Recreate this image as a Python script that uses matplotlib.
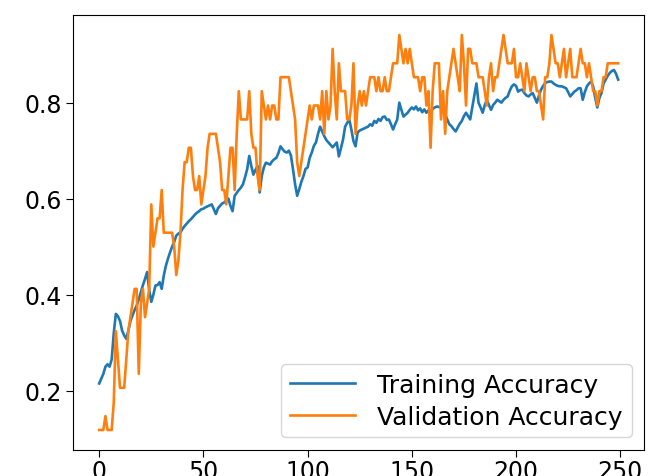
import matplotlib
matplotlib.use("Agg")
import matplotlib.pyplot as plt
import numpy as np

# per-epoch accuracy (250 epochs)
train_acc = [
    0.215, 0.225, 0.235, 0.250, 0.255, 0.250, 0.265, 0.320, 0.360, 0.355,
    0.345, 0.325, 0.315, 0.308, 0.325, 0.345, 0.357, 0.368, 0.377, 0.390,
    0.405, 0.420, 0.433, 0.447, 0.410, 0.385, 0.400, 0.419, 0.420, 0.426,
    0.412, 0.440, 0.460, 0.475, 0.488, 0.500, 0.510, 0.523, 0.527, 0.530,
    0.537, 0.543, 0.548, 0.553, 0.557, 0.562, 0.567, 0.571, 0.574, 0.578,
    0.579, 0.582, 0.584, 0.586, 0.588, 0.578, 0.568, 0.580, 0.585, 0.590,
    0.592, 0.596, 0.600, 0.585, 0.574, 0.606, 0.612, 0.618, 0.623, 0.630,
    0.645, 0.661, 0.689, 0.668, 0.650, 0.660, 0.668, 0.613, 0.647, 0.665,
    0.675, 0.673, 0.671, 0.678, 0.682, 0.685, 0.695, 0.709, 0.703, 0.698,
    0.696, 0.700, 0.690, 0.661, 0.630, 0.606, 0.620, 0.635, 0.647, 0.662,
    0.665, 0.685, 0.696, 0.710, 0.717, 0.735, 0.750, 0.740, 0.730, 0.722,
    0.717, 0.712, 0.707, 0.712, 0.717, 0.688, 0.705, 0.723, 0.750, 0.758,
    0.765, 0.744, 0.720, 0.709, 0.738, 0.742, 0.744, 0.746, 0.748, 0.750,
    0.755, 0.752, 0.762, 0.758, 0.766, 0.762, 0.770, 0.771, 0.764, 0.765,
    0.755, 0.744, 0.755, 0.765, 0.800, 0.785, 0.771, 0.775, 0.779, 0.785,
    0.790, 0.786, 0.792, 0.784, 0.788, 0.780, 0.786, 0.779, 0.784, 0.778,
    0.787, 0.790, 0.792, 0.791, 0.790, 0.785, 0.776, 0.765, 0.755, 0.751,
    0.745, 0.740, 0.748, 0.756, 0.762, 0.772, 0.779, 0.772, 0.765, 0.790,
    0.815, 0.840, 0.800, 0.790, 0.779, 0.795, 0.806, 0.795, 0.785, 0.795,
    0.800, 0.806, 0.803, 0.800, 0.806, 0.810, 0.813, 0.825, 0.834, 0.838,
    0.835, 0.823, 0.826, 0.827, 0.820, 0.815, 0.813, 0.817, 0.820, 0.810,
    0.800, 0.815, 0.827, 0.835, 0.841, 0.843, 0.844, 0.844, 0.840, 0.837,
    0.835, 0.834, 0.834, 0.832, 0.830, 0.822, 0.813, 0.818, 0.823, 0.826,
    0.830, 0.830, 0.806, 0.822, 0.834, 0.840, 0.844, 0.834, 0.810, 0.790,
    0.810, 0.820, 0.840, 0.848, 0.856, 0.862, 0.866, 0.868, 0.860, 0.848,
]

val_acc = [
    0.118, 0.118, 0.118, 0.147, 0.118, 0.118, 0.118, 0.176, 0.324, 0.265,
    0.206, 0.206, 0.206, 0.265, 0.324, 0.353, 0.382, 0.412, 0.412, 0.235,
    0.382, 0.412, 0.353, 0.382, 0.412, 0.588, 0.500, 0.529, 0.559, 0.559,
    0.618, 0.529, 0.529, 0.529, 0.529, 0.529, 0.500, 0.441, 0.471, 0.529,
    0.618, 0.676, 0.676, 0.706, 0.706, 0.647, 0.618, 0.618, 0.647, 0.588,
    0.618, 0.647, 0.706, 0.735, 0.735, 0.735, 0.735, 0.706, 0.676, 0.618,
    0.618, 0.588, 0.647, 0.706, 0.706, 0.618, 0.735, 0.824, 0.765, 0.765,
    0.765, 0.765, 0.824, 0.735, 0.706, 0.706, 0.647, 0.618, 0.824, 0.794,
    0.765, 0.794, 0.765, 0.794, 0.794, 0.765, 0.765, 0.853, 0.853, 0.853,
    0.853, 0.853, 0.824, 0.794, 0.765, 0.676, 0.647, 0.676, 0.706, 0.735,
    0.765, 0.794, 0.765, 0.794, 0.794, 0.794, 0.765, 0.824, 0.735, 0.824,
    0.765, 0.794, 0.912, 0.824, 0.765, 0.882, 0.824, 0.824, 0.824, 0.765,
    0.765, 0.794, 0.882, 0.735, 0.794, 0.824, 0.794, 0.824, 0.794, 0.824,
    0.853, 0.853, 0.853, 0.824, 0.853, 0.824, 0.824, 0.853, 0.824, 0.824,
    0.853, 0.882, 0.882, 0.882, 0.941, 0.912, 0.882, 0.912, 0.882, 0.912,
    0.882, 0.853, 0.853, 0.853, 0.824, 0.853, 0.853, 0.794, 0.824, 0.706,
    0.824, 0.882, 0.882, 0.882, 0.765, 0.824, 0.735, 0.824, 0.853, 0.882,
    0.912, 0.882, 0.853, 0.824, 0.941, 0.882, 0.794, 0.912, 0.912, 0.882,
    0.882, 0.882, 0.853, 0.853, 0.853, 0.824, 0.794, 0.853, 0.882, 0.824,
    0.853, 0.853, 0.882, 0.912, 0.941, 0.912, 0.882, 0.882, 0.882, 0.912,
    0.853, 0.853, 0.882, 0.853, 0.824, 0.882, 0.853, 0.824, 0.853, 0.853,
    0.824, 0.824, 0.794, 0.765, 0.853, 0.853, 0.882, 0.941, 0.912, 0.882,
    0.882, 0.853, 0.882, 0.912, 0.853, 0.882, 0.912, 0.853, 0.853, 0.853,
    0.882, 0.912, 0.882, 0.882, 0.853, 0.882, 0.853, 0.824, 0.824, 0.794,
    0.824, 0.824, 0.853, 0.853, 0.882, 0.882, 0.882, 0.882, 0.882, 0.882,
]

fig = plt.figure(figsize=(6.48, 4.77), dpi=100)
ax = fig.add_axes([0.113, 0.055, 0.881, 0.911])

ax.plot(np.arange(len(train_acc)), train_acc, color="#1f77b4", lw=1.9, label="Training Accuracy")
ax.plot(np.arange(len(val_acc)), val_acc, color="#ff7f0e", lw=1.9, label="Validation Accuracy")

ax.set_xticks([0, 50, 100, 150, 200, 250])
ax.set_yticks([0.2, 0.4, 0.6, 0.8])
ax.tick_params(labelsize=17, length=5)
ax.tick_params(axis="x", pad=2)
ax.tick_params(axis="y", pad=3)
ax.legend(loc="lower right", fontsize=18, handlelength=2.6, labelspacing=0.3,
          borderpad=0.35, handletextpad=0.9)

fig.savefig("out.png", dpi=100)
